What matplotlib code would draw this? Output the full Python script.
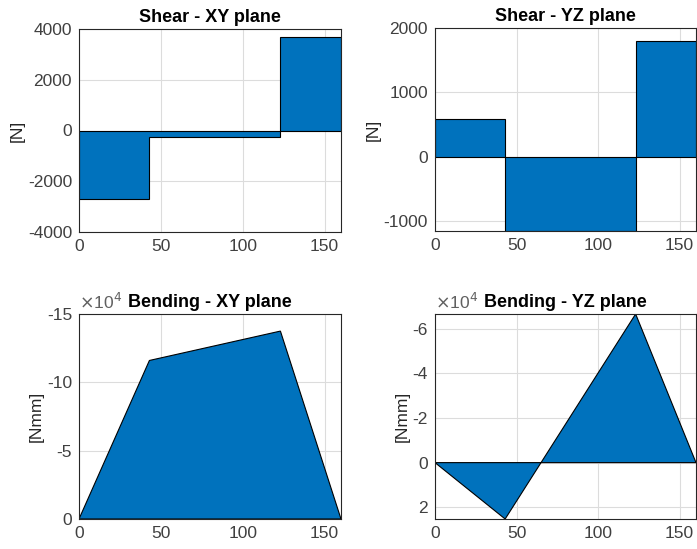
import matplotlib.pyplot as plt
import numpy as np

plt.rcParams['font.family'] = ['Liberation Sans', 'DejaVu Sans']
plt.rcParams['axes.unicode_minus'] = False

# beam stations [mm]
x_breaks = [0, 43, 123, 160]

# shear per segment [N]
shear_xy = [-2700, -270, 3700]
shear_yz = [590, -1150, 1800]

# bending moment at stations [Nmm]
x_bend_xy = [0, 43, 123, 160]
bend_xy = [0, -11.6e4, -13.75e4, 0]
x_bend_yz = [0, 43, 65, 123, 160]
bend_yz = [0, 2.53e4, 0, -6.67e4, 0]

blue = '#0072BD'
dark = '#262626'
tick_col = '#404040'


def step_poly(xb, v):
    # outline of a piecewise-constant diagram closed back along zero
    xs, ys = [xb[0]], [0]
    for i, val in enumerate(v):
        xs += [xb[i], xb[i + 1]]
        ys += [val, val]
    xs.append(xb[-1])
    ys.append(0)
    return xs, ys


def style(ax, title, ylabel):
    ax.set_title(title, fontsize=13, fontweight='bold', pad=5)
    ax.set_ylabel(ylabel, fontsize=12.5, color=dark, labelpad=2)
    ax.set_xlim(0, 160)
    ax.set_xticks([0, 50, 100, 150])
    ax.grid(True, color='#dcdcdc', linewidth=0.8)
    ax.set_axisbelow(True)
    ax.tick_params(length=0, pad=5, labelsize=12.5, labelcolor=tick_col)
    for s in ax.spines.values():
        s.set_color(dark)
        s.set_linewidth(0.8)


W, H = 697, 549
fig = plt.figure(figsize=(W / 100, H / 100), dpi=100)


def add_axes(l, r, t, b):
    return fig.add_axes([l / W, 1 - b / H, (r - l) / W, (b - t) / H])


ax1 = add_axes(79, 341, 29, 232)
ax2 = add_axes(435, 696, 28, 231)
ax3 = add_axes(79, 341, 314, 519)
ax4 = add_axes(435, 696, 314, 519)

# shear XY
xs, ys = step_poly(x_breaks, shear_xy)
ax1.fill(xs, ys, color=blue, edgecolor='black', linewidth=0.8)
ax1.set_ylim(-4000, 4000)
ax1.set_yticks([-4000, -2000, 0, 2000, 4000])
style(ax1, 'Shear - XY plane', '[N]')

# shear YZ
xs, ys = step_poly(x_breaks, shear_yz)
ax2.fill(xs, ys, color=blue, edgecolor='black', linewidth=0.8)
ax2.set_ylim(-1150, 2000)
ax2.set_yticks([-1000, 0, 1000, 2000])
style(ax2, 'Shear - YZ plane', '[N]')

# bending XY (reversed y axis)
ax3.fill(x_bend_xy, bend_xy, color=blue, edgecolor='black', linewidth=0.8)
ax3.set_ylim(0, -15e4)
yt = [-15e4, -10e4, -5e4, 0]
ax3.set_yticks(yt)
ax3.set_yticklabels([f'{v / 1e4:g}' for v in yt])
style(ax3, 'Bending - XY plane', '[Nmm]')
ax3.text(0, 1.01, r'$\times$10$^4$', transform=ax3.transAxes, fontsize=12.5,
         color='#606060', ha='left', va='bottom')

# bending YZ (reversed y axis)
ax4.fill(x_bend_yz, bend_yz, color=blue, edgecolor='black', linewidth=0.8)
ax4.set_ylim(2.53e4, -6.67e4)
yt = [-6e4, -4e4, -2e4, 0, 2e4]
ax4.set_yticks(yt)
ax4.set_yticklabels([f'{v / 1e4:g}' for v in yt])
style(ax4, 'Bending - YZ plane', '[Nmm]')
ax4.text(0, 1.01, r'$\times$10$^4$', transform=ax4.transAxes, fontsize=12.5,
         color='#606060', ha='left', va='bottom')

fig.savefig('out.png', dpi=100)
